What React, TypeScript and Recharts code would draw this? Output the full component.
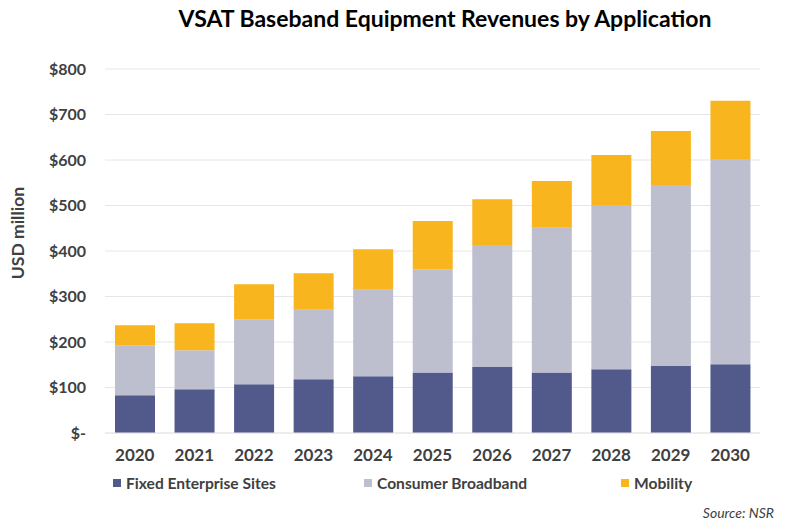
import React from 'react';
import { BarChart, Bar, XAxis, YAxis, CartesianGrid } from 'recharts';

const years = ['2020', '2021', '2022', '2023', '2024', '2025', '2026', '2027', '2028', '2029', '2030'];
const fixedEnterprise = [83, 96, 107, 118, 125, 133, 145, 133, 140, 147, 151];
const consumerBroadband = [110, 86, 143, 153, 190, 227, 268, 318, 361, 398, 451];
const mobility = [44, 59, 77, 80, 89, 106, 101, 103, 110, 119, 128];
const yTicks = [0, 100, 200, 300, 400, 500, 600, 700, 800];

const seriesNames = ['Fixed Enterprise Sites', 'Consumer Broadband', 'Mobility'];
const colors = ['#525A8C', '#BDBFCE', '#F8B51E'];

const data = years.map((y, i) => ({
  year: y,
  fixed: fixedEnterprise[i],
  consumer: consumerBroadband[i],
  mobility: mobility[i],
}));

const FONT = 'Lato, "Open Sans", sans-serif';

const YLabel = (props: any) => {
  const vb = props.viewBox || { x: 0, y: 0, width: 0, height: 0 };
  const x = vb.x + 17;
  const y = vb.y + vb.height / 2 - 18;
  return (
    <text
      x={x}
      y={y}
      transform={`rotate(-90, ${x}, ${y})`}
      textAnchor="middle"
      dominantBaseline="central"
      fontFamily={FONT}
      fontWeight={700}
      fontSize={17.5}
      fill="#404040"
    >
      USD million
    </text>
  );
};

export default function App() {
  const legendX = [113, 364, 621];
  return (
    <div style={{ position: 'absolute', left: 0, top: 0, width: 790, height: 529, background: '#fff', fontFamily: FONT }}>
      <div
        style={{
          position: 'absolute',
          left: 90,
          width: 710,
          top: 4,
          textAlign: 'center',
          fontSize: 23,
          fontWeight: 700,
          color: '#000',
          lineHeight: '28px',
        }}
      >
        VSAT Baseband Equipment Revenues by Application
      </div>
      <BarChart
        width={790}
        height={529}
        data={data}
        margin={{ top: 69, right: 30, bottom: 66, left: 0 }}
      >
        <CartesianGrid vertical={false} stroke="#E6E6E6" strokeWidth={1} />
        <XAxis
          dataKey="year"
          height={30}
          tickLine={false}
          axisLine={{ stroke: '#E6E6E6' }}
          tickMargin={10}
          tick={{ fontFamily: FONT, fontWeight: 700, fontSize: 17, fill: '#404040' }}
          interval={0}
        />
        <YAxis
          width={105}
          domain={[0, 800]}
          ticks={yTicks}
          interval={0}
          tickLine={false}
          axisLine={false}
          tickSize={0}
          tickMargin={19}
          tickFormatter={(v: number) => (v === 0 ? '$-' : `$${v}`)}
          tick={{ fontFamily: FONT, fontWeight: 700, fontSize: 16, fill: '#404040' }}
          label={<YLabel />}
        />
        <Bar dataKey="fixed" name={seriesNames[0]} stackId="a" fill={colors[0]} barSize={40} isAnimationActive={false} />
        <Bar dataKey="consumer" name={seriesNames[1]} stackId="a" fill={colors[1]} barSize={40} isAnimationActive={false} />
        <Bar dataKey="mobility" name={seriesNames[2]} stackId="a" fill={colors[2]} barSize={40} isAnimationActive={false} />
      </BarChart>
      {seriesNames.map((n, i) => (
        <div
          key={n}
          style={{
            position: 'absolute',
            left: legendX[i],
            top: 473,
            height: 20,
            display: 'flex',
            alignItems: 'center',
            fontSize: 15.6,
            fontWeight: 700,
            color: '#404040',
            whiteSpace: 'nowrap',
          }}
        >
          <span style={{ display: 'inline-block', width: 8, height: 8, background: colors[i], marginRight: 5 }} />
          {n}
        </div>
      ))}
      <div
        style={{
          position: 'absolute',
          right: 16,
          top: 504,
          fontSize: 14,
          fontStyle: 'italic',
          color: '#404040',
        }}
      >
        Source: NSR
      </div>
    </div>
  );
}
